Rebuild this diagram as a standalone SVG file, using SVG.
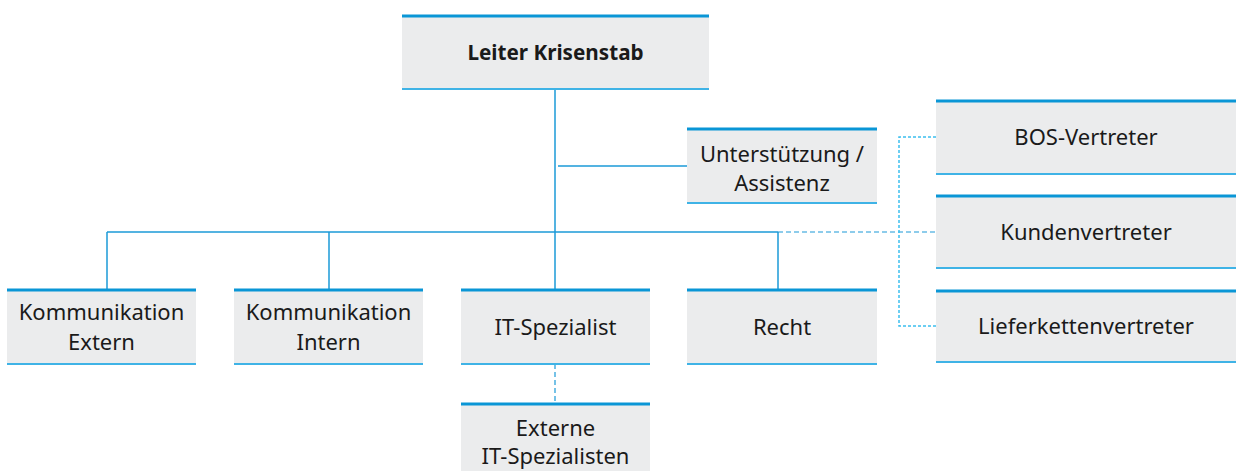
<svg xmlns="http://www.w3.org/2000/svg" width="1236" height="471" viewBox="0 0 1236 471">
<style>
.box{fill:#ebeced}
.top{stroke:#0a96d6;stroke-width:3}
.bot{stroke:#3fb3e6;stroke-width:2}
.t{font-family:"Noto Sans","Open Sans",sans-serif;font-size:22px;fill:#1a1a1a;text-anchor:middle}
.b{font-weight:bold;font-size:20.7px}
.ln{stroke:#1c9ad8;stroke-width:1.5;fill:none}
.dot{stroke:#3cbfee;stroke-width:1.5;fill:none;stroke-dasharray:3 2}
.dash{stroke:#1c9ad8;stroke-width:1.2;fill:none;stroke-dasharray:5 3}
</style>
<rect width="1236" height="471" fill="#fff"/>
<g id="connectors">
<path class="ln" d="M555 89V289M558 166H687M107 232H778M107 232V289M329 232V289M778 232V289"/>
<path class="dash" d="M555 364V403M778 232H936"/>
<path class="dot" d="M936 137H899V326H936"/>
</g>
<g id="leiter">
<rect class="box" x="402" y="15" width="307" height="74"/>
<line class="top" x1="402" y1="16" x2="709" y2="16"/>
<line class="bot" x1="402" y1="89" x2="709" y2="89"/>
<text class="t b" x="555.5" y="60">Leiter Krisenstab</text>
</g>
<g id="unterstuetzung">
<rect class="box" x="687" y="128" width="190" height="75"/>
<line class="top" x1="687" y1="129" x2="877" y2="129"/>
<line class="bot" x1="687" y1="203" x2="877" y2="203"/>
<text class="t" x="782" y="162">Unterstützung /</text>
<text class="t" x="782" y="191">Assistenz</text>
</g>
<g id="komm-extern">
<rect class="box" x="7" y="289" width="189" height="75"/>
<line class="top" x1="7" y1="290" x2="196" y2="290"/>
<line class="bot" x1="7" y1="364" x2="196" y2="364"/>
<text class="t" x="101.5" y="320">Kommunikation</text>
<text class="t" x="101.5" y="350">Extern</text>
</g>
<g id="komm-intern">
<rect class="box" x="234" y="289" width="189" height="75"/>
<line class="top" x1="234" y1="290" x2="423" y2="290"/>
<line class="bot" x1="234" y1="364" x2="423" y2="364"/>
<text class="t" x="328.5" y="320">Kommunikation</text>
<text class="t" x="328.5" y="350">Intern</text>
</g>
<g id="it-spezialist">
<rect class="box" x="461" y="289" width="189" height="75"/>
<line class="top" x1="461" y1="290" x2="650" y2="290"/>
<line class="bot" x1="461" y1="364" x2="650" y2="364"/>
<text class="t" x="555.5" y="335">IT-Spezialist</text>
</g>
<g id="recht">
<rect class="box" x="687" y="289" width="190" height="75"/>
<line class="top" x1="687" y1="290" x2="877" y2="290"/>
<line class="bot" x1="687" y1="364" x2="877" y2="364"/>
<text class="t" x="782" y="335">Recht</text>
</g>
<g id="externe-it">
<rect class="box" x="461" y="403" width="189" height="68"/>
<line class="top" x1="461" y1="404" x2="650" y2="404"/>
<text class="t" x="555.5" y="436">Externe</text>
<text class="t" x="555.5" y="464">IT-Spezialisten</text>
</g>
<g id="bos">
<rect class="box" x="936" y="100" width="300" height="74"/>
<line class="top" x1="936" y1="101" x2="1236" y2="101"/>
<line class="bot" x1="936" y1="174" x2="1236" y2="174"/>
<text class="t" x="1086" y="145">BOS-Vertreter</text>
</g>
<g id="kunden">
<rect class="box" x="936" y="195" width="300" height="73"/>
<line class="top" x1="936" y1="196" x2="1236" y2="196"/>
<line class="bot" x1="936" y1="268" x2="1236" y2="268"/>
<text class="t" x="1086" y="240">Kundenvertreter</text>
</g>
<g id="liefer">
<rect class="box" x="936" y="290" width="300" height="72"/>
<line class="top" x1="936" y1="291" x2="1236" y2="291"/>
<line class="bot" x1="936" y1="362" x2="1236" y2="362"/>
<text class="t" x="1086" y="334">Lieferkettenvertreter</text>
</g>
</svg>
